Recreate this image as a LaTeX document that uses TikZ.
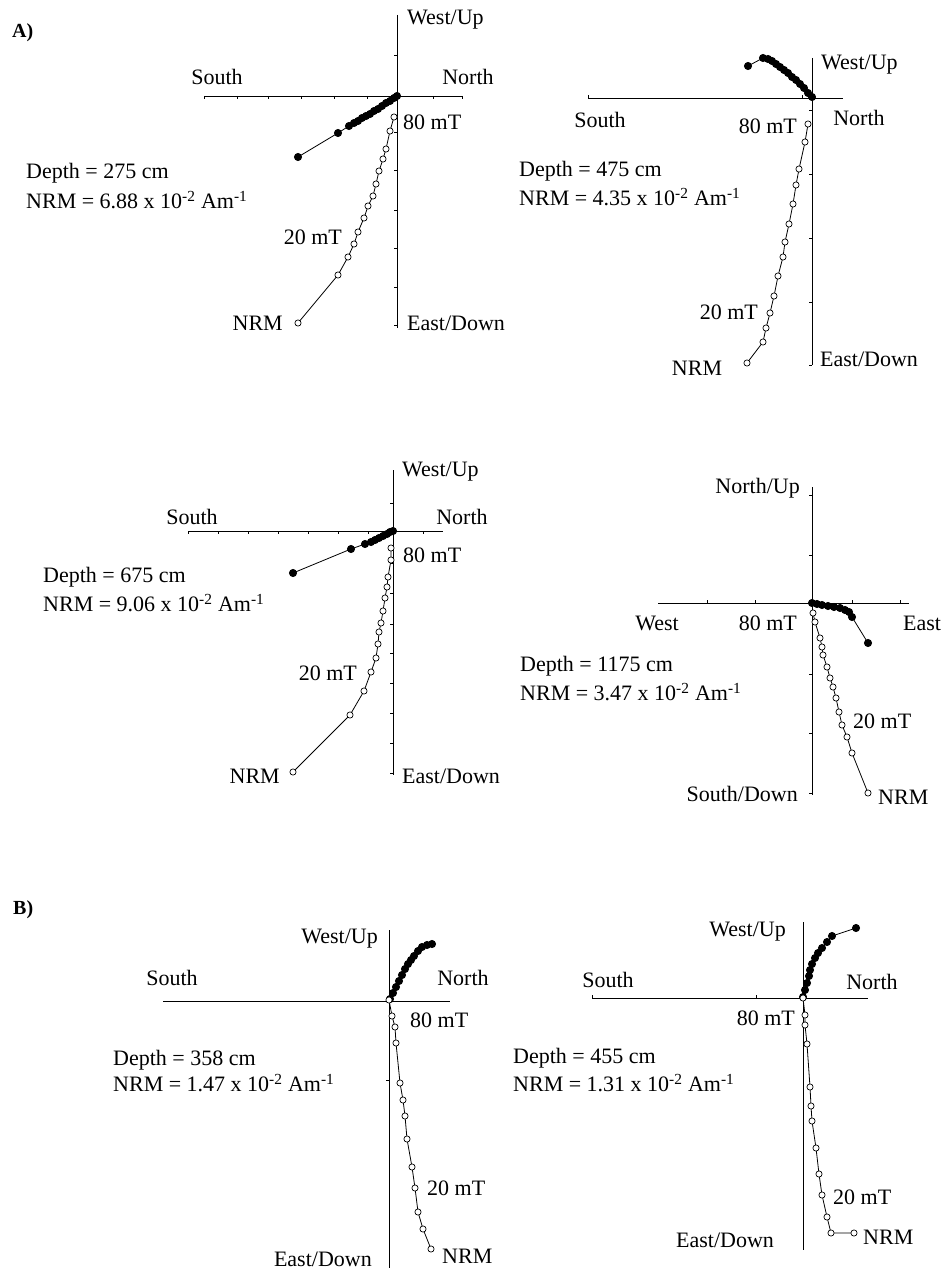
\documentclass[tikz,border=0pt]{standalone}
\usepackage{fontspec}
\setmainfont{Liberation Serif}
\usetikzlibrary{plotmarks}

\tikzset{
  axis/.style={line width=0.9pt},
  tck/.style={line width=0.6pt},
  lbl/.style={inner sep=0pt, font=\fontsize{22}{25}\selectfont},
  hproj/.style={line width=0.8pt, mark=*, mark size=3.6pt},
  vproj/.style={line width=0.8pt, mark=*, mark size=3.1pt, mark options={fill=white, line width=0.7pt}},
}

\begin{document}
\begin{tikzpicture}[x=1pt,y=-1pt]
\useasboundingbox (0,0) rectangle (945,1271);

% A) 275 cm
\draw[axis] (397,15) -- (397,328);
\draw[axis] (204,96) -- (463,96);
\foreach \y in {55,132,170,210,248,287,325} \draw[tck] (394,\y) -- (397,\y);
\foreach \x in {204,237,268,301,334,367,433,462} \draw[tck] (\x,96) -- (\x,99);
\draw[hproj] plot coordinates {(298,157) (338,133) (349,126) (354,123) (358,121) (362,118) (366,116) (370,114) (374,111) (378,109) (382,106) (386,103) (390,101) (394,98) (397,96)};
\draw[vproj] plot coordinates {(298,323) (338,275) (348,257) (354,244) (358,232) (364,218) (368,206) (373,196) (376,184) (379,171) (383,159) (386,149) (390,131) (394,117)};
\node[lbl, anchor=west, font=\fontsize{20}{22}\selectfont\bfseries] (la) at (12,33) {A)};
\node[lbl, anchor=west] (up1) at (407,20) {West/Up};
\node[lbl] (s1) at (217,77) {South};
\node[lbl] (n1) at (468,77) {North};
\node[lbl, anchor=west] (dn1) at (407,323) {East/Down};
\node[lbl, anchor=west] (hi1) at (403,122) {80 mT};
\node[lbl, anchor=east] (lo1) at (342,237) {20 mT};
\node[lbl, anchor=east] (nrm1) at (283,323) {NRM};
\node[lbl, anchor=west] (dep1) at (26,173) {Depth = 275 cm};
\node[lbl, anchor=west] (int1) at (26,200) {NRM = 6.88 x 10\textsuperscript{-2} Am\textsuperscript{-1}};

% A) 475 cm
\draw[axis] (812,58) -- (812,365);
\draw[axis] (588,98) -- (843,98);
\foreach \y in {110,174,238,302,365} \draw[tck] (809,\y) -- (812,\y);
\foreach \x in {588,802} \draw[tck] (\x,98) -- (\x,95);
\draw[hproj] plot coordinates {(748,66) (763,58) (768,59) (772,61) (776,64) (780,67) (784,70) (788,73) (792,77) (796,80) (800,84) (804,88) (808,93) (812,97)};
\draw[vproj] plot coordinates {(747,363) (763,342) (766,328) (770,313) (774,296) (778,276) (783,257) (785,242) (789,224) (793,204) (796,185) (799,169) (805,142) (808,124)};
\node[lbl, anchor=west] (up2) at (821,65) {West/Up};
\node[lbl] (s2) at (600,120) {South};
\node[lbl] (n2) at (859,118) {North};
\node[lbl, anchor=east] (hi2) at (797,126) {80 mT};
\node[lbl, anchor=west] (dn2) at (820,359) {East/Down};
\node[lbl, anchor=east] (lo2) at (758,312) {20 mT};
\node[lbl] (nrm2) at (697,368) {NRM};
\node[lbl, anchor=west] (dep2) at (519,171) {Depth = 475 cm};
\node[lbl, anchor=west] (int2) at (519,197) {NRM = 4.35 x 10\textsuperscript{-2} Am\textsuperscript{-1}};

% A) 675 cm
\draw[axis] (393,470) -- (393,775);
\draw[axis] (188,531) -- (443,531);
\foreach \y in {503,563,593,624,653,683,713,743,773} \draw[tck] (390,\y) -- (393,\y);
\foreach \x in {188,218,248,278,308,338,368,423} \draw[tck] (\x,531) -- (\x,534);
\draw[hproj] plot coordinates {(293,573) (351,549) (365,544) (371,542) (375,540) (379,538) (383,536) (387,534) (390,532) (393,531)};
\draw[vproj] plot coordinates {(293,772) (350,715) (364,691) (371,672) (376,658) (378,644) (379,632) (381,623) (383,611) (385,598) (387,587) (388,577) (391,560) (391,548)};
\node[lbl, anchor=west] (up3) at (402,472) {West/Up};
\node[lbl] (s3) at (192,517) {South};
\node[lbl] (n3) at (462,517) {North};
\node[lbl, anchor=west] (hi3) at (403,555) {80 mT};
\node[lbl, anchor=east] (lo3) at (357,673) {20 mT};
\node[lbl, anchor=east] (nrm3) at (280,776) {NRM};
\node[lbl, anchor=west] (dn3) at (402,776) {East/Down};
\node[lbl, anchor=west] (dep3) at (43,577) {Depth = 675 cm};
\node[lbl, anchor=west] (int3) at (43,603) {NRM = 9.06 x 10\textsuperscript{-2} Am\textsuperscript{-1}};

% A) 1175 cm
\draw[axis] (812,487) -- (812,795);
\draw[axis] (658,603) -- (909,603);
\foreach \y in {495,555,674,733,793} \draw[tck] (809,\y) -- (812,\y);
\foreach \x in {707,755,852,900} \draw[tck] (\x,603) -- (\x,600);
\draw[hproj] plot coordinates {(812,603) (817,604) (822,605) (828,606) (834,607) (840,608) (845,610) (849,612) (852,617) (868,643)};
\draw[vproj] plot coordinates {(813,613) (815,622) (820,638) (822,647) (823,655) (827,667) (830,678) (833,687) (836,698) (839,712) (842,725) (847,737) (852,753) (868,793)};
\node[lbl, anchor=east] (up4) at (800,488) {North/Up};
\node[lbl] (w4) at (657,623) {West};
\node[lbl, anchor=east] (hi4) at (797,623) {80 mT};
\node[lbl, anchor=west] (e4) at (903,623) {East};
\node[lbl, anchor=west] (lo4) at (853,721) {20 mT};
\node[lbl, anchor=east] (dn4) at (798,794) {South/Down};
\node[lbl, anchor=west] (nrm4) at (878,797) {NRM};
\node[lbl, anchor=west] (dep4) at (520,666) {Depth = 1175 cm};
\node[lbl, anchor=west] (int4) at (520,692) {NRM = 3.47 x 10\textsuperscript{-2} Am\textsuperscript{-1}};

% B) 358 cm
\draw[axis] (389,930) -- (389,1268);
\draw[axis] (163,1001) -- (450,1001);
\draw[tck] (386,1080) -- (389,1080);
\draw[hproj] plot coordinates {(390,999) (393,993) (396,987) (399,981) (402,975) (405,969) (408,964) (411,960) (414,956) (418,951) (422,947) (427,945) (432,944)};
\draw[vproj] plot coordinates {(389,1000) (392,1016) (395,1027) (396,1043) (400,1083) (403,1100) (405,1116) (407,1139) (412,1167) (415,1188) (418,1212) (423,1229) (431,1249)};
\node[lbl, anchor=west, font=\fontsize{20}{22}\selectfont\bfseries] (lb) at (13,910) {B)};
\node[lbl, anchor=east] (up5) at (378,939) {West/Up};
\node[lbl] (s5) at (172,978) {South};
\node[lbl] (n5) at (463,978) {North};
\node[lbl, anchor=west] (hi5) at (410,1020) {80 mT};
\node[lbl, anchor=west] (lo5) at (427,1188) {20 mT};
\node[lbl, anchor=west] (nrm5) at (442,1256) {NRM};
\node[lbl, anchor=east] (dn5) at (372,1259) {East/Down};
\node[lbl, anchor=west] (dep5) at (113,1060) {Depth = 358 cm};
\node[lbl, anchor=west] (int5) at (113,1083) {NRM = 1.47 x 10\textsuperscript{-2} Am\textsuperscript{-1}};

% B) 455 cm
\draw[axis] (803,922) -- (803,1250);
\draw[axis] (592,998) -- (868,998);
\foreach \x in {592,756} \draw[tck] (\x,998) -- (\x,995);
\draw[hproj] plot coordinates {(803,997) (805,990) (807,983) (809,976) (810,970) (812,964) (815,958) (818,953) (822,948) (827,942) (832,936) (856,928)};
\draw[vproj] plot coordinates {(803,998) (805,1015) (805,1025) (807,1044) (810,1087) (811,1106) (812,1121) (816,1148) (819,1174) (822,1195) (827,1217) (831,1233) (854,1233)};
\node[lbl, anchor=east] (up6) at (786,932) {West/Up};
\node[lbl] (s6) at (608,980) {South};
\node[lbl] (n6) at (872,982) {North};
\node[lbl, anchor=east] (hi6) at (795,1018) {80 mT};
\node[lbl, anchor=west] (lo6) at (833,1197) {20 mT};
\node[lbl, anchor=west] (nrm6) at (863,1237) {NRM};
\node[lbl] (dn6) at (725,1240) {East/Down};
\node[lbl, anchor=west] (dep6) at (513,1058) {Depth = 455 cm};
\node[lbl, anchor=west] (int6) at (513,1083) {NRM = 1.31 x 10\textsuperscript{-2} Am\textsuperscript{-1}};
\end{tikzpicture}
\end{document}
